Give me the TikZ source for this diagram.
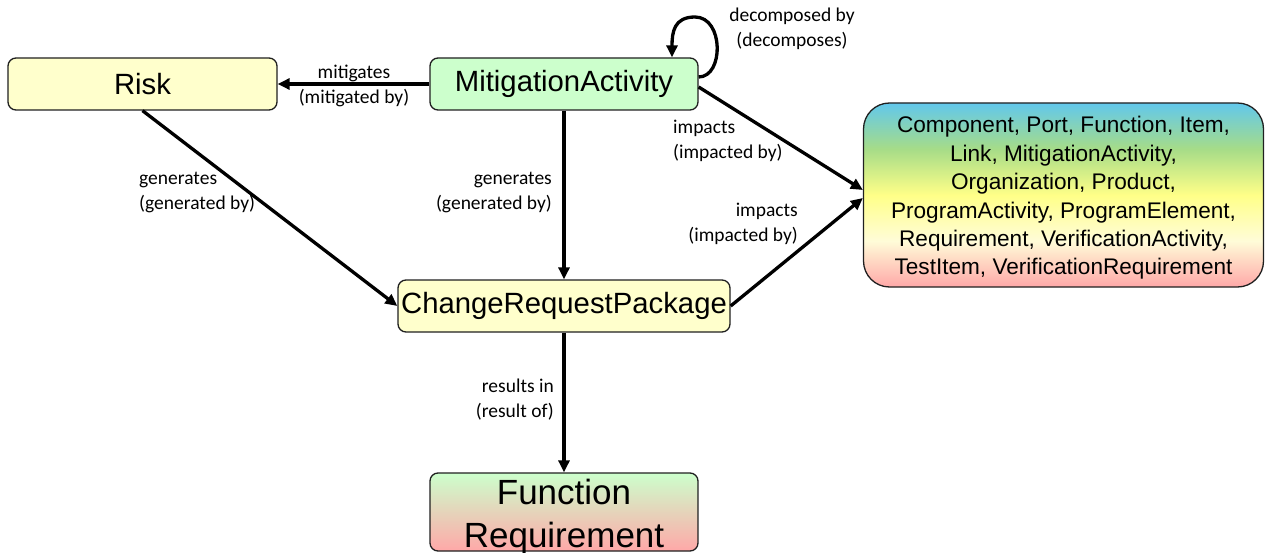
\documentclass[tikz,border=0pt]{standalone}
\usepackage{fontspec}
\setmainfont{Liberation Sans}
\newfontfamily\labelfont{Carlito}
\usetikzlibrary{arrows.meta,calc}
\definecolor{nodeyellow}{HTML}{FFFFCC}
\definecolor{nodegreen}{HTML}{CCFFCC}
\definecolor{nodepink}{HTML}{FFA8A8}
\definecolor{sblue}{HTML}{62C8EC}
\definecolor{sgreen}{HTML}{A6DC88}
\definecolor{syellow}{HTML}{FFFF88}
\definecolor{scream}{HTML}{FFFCD8}
\definecolor{spink}{HTML}{FFA8A8}
\definecolor{edgegray}{HTML}{202020}
\pgfdeclareverticalshading{bigshade}{100bp}{color(0bp)=(spink); color(25bp)=(spink); color(37.5bp)=(scream); color(50bp)=(syellow); color(62.5bp)=(sgreen); color(75bp)=(sblue); color(100bp)=(sblue)}
\tikzset{
  box/.style={draw=edgegray, line width=1.3pt, rounded corners=8pt, inner sep=0pt, align=center,
    font=\fontsize{29.3}{35}\selectfont},
  conn/.style={line width=3.3pt, draw=black, -{Triangle[length=12pt,width=11pt]}},
  lbl/.style={font=\labelfont\fontsize{19.5}{24.5}\selectfont, inner sep=0pt, text=black},
  boxtext/.style={inner sep=0pt, align=center}
}
\begin{document}
\begin{tikzpicture}[x=1pt,y=-1pt]
\useasboundingbox (0,0) rectangle (1265,553);
\node[box, fill=nodeyellow, minimum width=269pt, minimum height=52pt] (risk) at (142.5,84) {Risk};
\node[box, fill=nodegreen, minimum width=268pt, minimum height=52pt] (ma) at (564,84) {MitigationActivity};
\node[box, fill=nodeyellow, minimum width=332pt, minimum height=52pt] (crp) at (564,306) {ChangeRequestPackage};
\node[box, top color=nodegreen, bottom color=nodepink, minimum width=268pt, minimum height=78pt] (fr) at (564,512) {};
\node[boxtext, font=\fontsize{35}{43}\selectfont] (frt) at ($(fr.center)+(0,5)$) {Function\\Requirement};
\node[box, shading=bigshade, rounded corners=26pt, minimum width=400pt, minimum height=184pt] (big) at (1063.5,195) {};
\node[boxtext, font=\fontsize{22.6}{28.4}\selectfont] (bigt) at ($(big.center)+(0,3)$)
  {Component, Port, Function, Item,\\Link, MitigationActivity,\\Organization, Product,\\ProgramActivity, ProgramElement,\\Requirement, VerificationActivity,\\TestItem, VerificationRequirement};

\draw[conn] (ma.west) -- (risk.east);
\draw[conn] (risk.south) -- (crp.west);
\draw[conn] (ma.south) -- (crp.north);
\draw[conn] ($(ma.east)+(0,3)$) -- ($(big.west)+(0,-5)$);
\draw[conn] (crp.east) -- ($(big.west)+(0,3)$);
\draw[conn] (crp.south) -- (fr.north);
\draw[conn] ($(ma.east)+(0,-7)$) .. controls (724,77) and (724,17) .. (695,17)
  .. controls (674,17) and (672,32) .. ($(ma.north)+(108,0)$);

\node[lbl, align=center] (l1) at (354,86) {mitigates\\(mitigated by)};
\node[lbl, align=left, anchor=north west] (l2) at (139,172) {generates\\(generated by)};
\node[lbl, align=right, anchor=north east] (l3) at (552,172) {generates\\(generated by)};
\node[lbl, align=left, anchor=north west] (l4) at (673,120) {impacts\\(impacted by)};
\node[lbl, align=right, anchor=north east] (l5) at (798,203) {impacts\\(impacted by)};
\node[lbl, align=right, anchor=north east] (l6) at (554,379) {results in\\(result of)};
\node[lbl, align=center] (l7) at (792,29) {decomposed by\\(decomposes)};
\end{tikzpicture}
\end{document}
